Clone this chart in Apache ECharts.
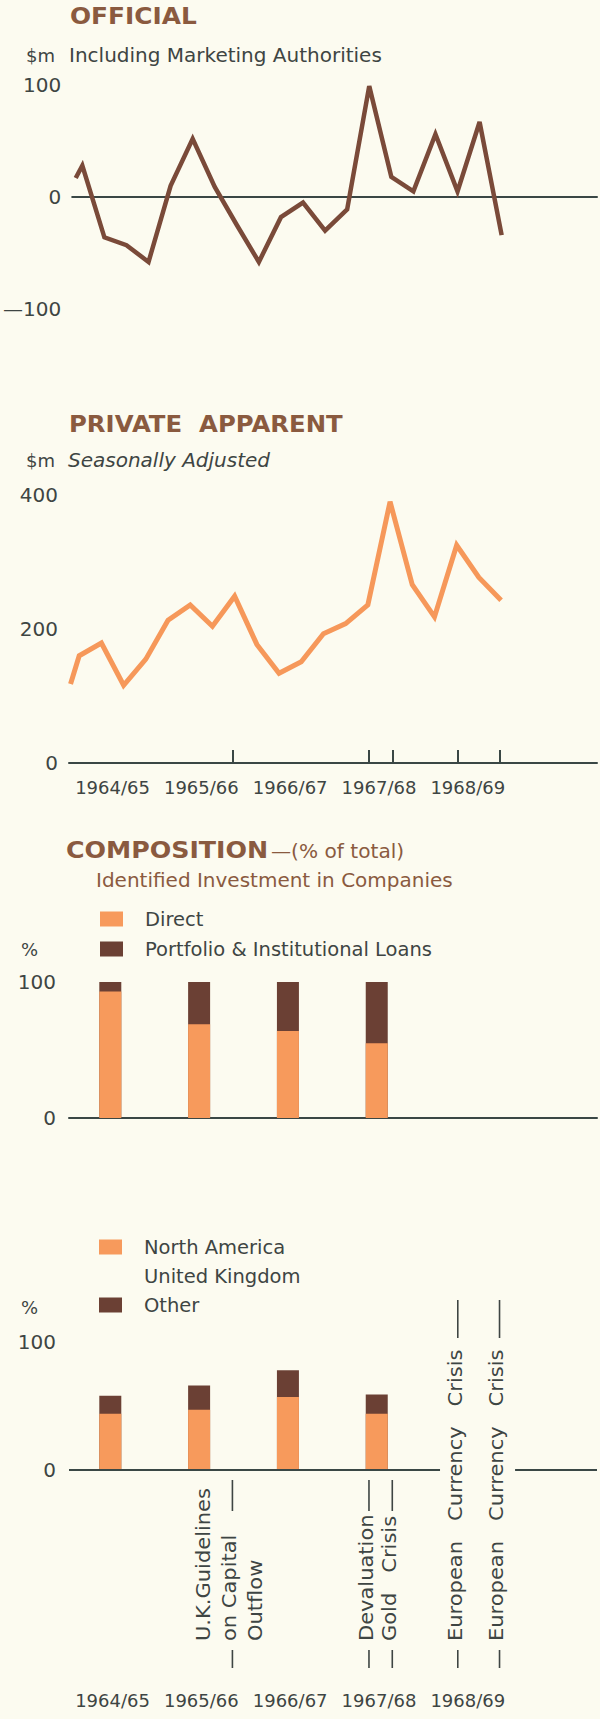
<!DOCTYPE html>
<html>
<head>
<meta charset="utf-8">
<script src="https://cdn.jsdelivr.net/npm/echarts@6/dist/echarts.min.js"></script>
<style>
html,body{margin:0;padding:0;background:#fcfbf0;}
#c{width:600px;height:1719px;}
</style>
</head>
<body>
<div id="c"></div>
<script>
// ---------- DATA ----------
// x positions are quarter indices: 0 = Sep quarter 1964 (first quarter of 1964/65)
const officialQuarters = [-0.3, 0, 1, 2, 3, 4, 5, 6, 7, 8, 9, 10, 11, 12, 13, 14, 15, 16, 17, 18, 19];
const officialValues   = [17, 28, -36, -43, -58, 10, 52, 9, -25, -58, -18, -5, -30, -11, 99, 18, 5, 56, 5, 67, -34];

const privateQuarters = [-0.39, 0, 1, 2, 3, 4, 5, 6, 7, 8, 9, 10, 11, 12, 13, 14, 15, 16, 17, 18, 19];
const privateValues   = [118, 160, 179, 116, 155, 213, 236, 204, 249, 177, 134, 151, 193, 208, 236, 390, 266, 218, 325, 277, 243];

const yearLabels = ['1964/65', '1965/66', '1966/67', '1967/68', '1968/69'];

// Composition (% of total) – one bar per year 1964/65 .. 1967/68
const directShare    = [93, 69, 64, 55];
const portfolioShare = [7, 31, 36, 45];

const northAmericaShare  = [44, 47, 57, 44];
const otherShare         = [14, 19, 21, 15];
const unitedKingdomShare = [42, 34, 22, 41];

// events (quarter index) and their annotation text
const eventQuarters = [6.9, 13.05, 14.1, 17.05, 18.93];
const eventTexts = [
  ['U.K.Guidelines', 'on Capital', 'Outflow'],
  ['Devaluation'],
  ['Gold   Crisis'],
  ['European   Currency   Crisis'],
  ['European   Currency   Crisis']
];
const eventMainLine = [1, 0, 0, 0, 0];

// ---------- STYLE ----------
const BG = '#fcfbf0';
const BROWN = '#8a5a3f';
const TEXT = '#3e4543';
const AXIS = '#3a4745';
const ORANGE = '#f79a5c';
const DARK = '#6b4034';
const OFFICIAL_LINE = '#7a4a39';
const PRIVATE_LINE = '#f6985a';
const FONT = '"DejaVu Sans", sans-serif';

const X_MIN = -0.46, X_MAX = 23.32;
const GRID_LEFT = 69, GRID_W = 528;

const yearCentres = yearLabels.map((_, k) => k * 4 + 1.5);
const barQuarters = directShare.map((_, k) => k * 4 + 1.4);

// cumulative tops for the stacked columns (drawn as overlapping bars)
const sum = (...arrs) => arrs[0].map((_, i) => arrs.reduce((s, a) => s + a[i], 0));
const comp1Top = sum(directShare, portfolioShare);
const comp2Other = sum(northAmericaShare, otherShare);
const comp2Top = sum(northAmericaShare, otherShare, unitedKingdomShare);

function xAxisBase(extra) {
  return Object.assign({
    type: 'value', min: X_MIN, max: X_MAX,
    splitLine: {show: false},
    axisLine: {show: true, onZero: true, lineStyle: {color: AXIS, width: 2}},
    axisTick: {show: false},
    axisLabel: {show: false}
  }, extra);
}
function yAxisBase(extra) {
  return Object.assign({
    type: 'value',
    splitLine: {show: false},
    axisLine: {show: false},
    axisTick: {show: false},
    axisLabel: {fontFamily: FONT, fontSize: 20, color: TEXT, margin: 11}
  }, extra);
}
const yearLabelCfg = (margin) => ({
  show: true, customValues: yearCentres, margin: margin,
  fontFamily: FONT, fontSize: 18, color: TEXT,
  formatter: (v) => {
    const k = yearCentres.findIndex(c => Math.abs(c - v) < 1e-6);
    return k >= 0 ? yearLabels[k] : '';
  }
});

const gapStart = eventQuarters[3] - 0.8;
const gapEnd = eventQuarters[4] + 0.7;

function barSeries(name, xi, values, color) {
  return {
    name: name, type: 'bar', xAxisIndex: xi, yAxisIndex: xi,
    barWidth: 22, barGap: '-100%', silent: true,
    data: barQuarters.map((q, i) => [q, values[i]]),
    itemStyle: {color: color}
  };
}

const naSeries = barSeries('North America', 3, northAmericaShare, ORANGE);
naSeries.markLine = {
  silent: true, symbol: ['none', 'none'], label: {show: false},
  lineStyle: {color: AXIS, width: 2, type: 'solid'},
  emphasis: {disabled: true},
  data: [
    [{coord: [X_MIN, 0]}, {coord: [gapStart, 0]}],
    [{coord: [gapEnd, 0]}, {coord: [X_MAX, 0]}]
  ]
};

const option = {
  backgroundColor: BG,
  animation: false,
  grid: [
    {left: GRID_LEFT, width: GRID_W, top: 85, height: 224},
    {left: GRID_LEFT, width: GRID_W, top: 495, height: 268},
    {left: GRID_LEFT, width: GRID_W, top: 982, height: 136},
    {left: GRID_LEFT, width: GRID_W, top: 1342, height: 128}
  ],
  xAxis: [
    xAxisBase({gridIndex: 0}),
    xAxisBase({gridIndex: 1,
      axisTick: {show: true, inside: true, length: 13, customValues: eventQuarters,
                 lineStyle: {color: AXIS, width: 2}},
      axisLabel: yearLabelCfg(15)}),
    xAxisBase({gridIndex: 2}),
    xAxisBase({gridIndex: 3, axisLine: {show: false}, axisLabel: yearLabelCfg(221)})
  ],
  yAxis: [
    yAxisBase({gridIndex: 0, min: -100, max: 100, interval: 100,
      axisLabel: {fontFamily: FONT, fontSize: 20, color: TEXT, margin: 11,
        formatter: v => v < 0 ? '—' + Math.abs(v) : String(v)}}),
    yAxisBase({gridIndex: 1, min: 0, max: 400, interval: 200}),
    yAxisBase({gridIndex: 2, min: 0, max: 100, interval: 100,
      axisLabel: {fontFamily: FONT, fontSize: 20, color: TEXT, margin: 13}}),
    yAxisBase({gridIndex: 3, min: 0, max: 100, interval: 100,
      axisLabel: {fontFamily: FONT, fontSize: 20, color: TEXT, margin: 13}})
  ],
  legend: [
    {
      data: ['Direct', 'Portfolio & Institutional Loans'],
      orient: 'vertical', left: 100, top: 909, padding: 0,
      itemWidth: 23, itemHeight: 15, itemGap: 10, icon: 'rect',
      selectedMode: false,
      textStyle: {fontFamily: FONT, fontSize: 19.5, color: TEXT, lineHeight: 20, padding: [0, 0, 0, 17]}
    },
    {
      data: ['North America', 'United Kingdom', 'Other'],
      orient: 'vertical', left: 99, top: 1237, padding: 0,
      itemWidth: 23, itemHeight: 15, itemGap: 9, icon: 'rect',
      selectedMode: false,
      textStyle: {fontFamily: FONT, fontSize: 19.5, color: TEXT, lineHeight: 20, padding: [0, 0, 0, 17]}
    }
  ],
  series: [
    {
      name: 'Official', type: 'line', xAxisIndex: 0, yAxisIndex: 0,
      data: officialQuarters.map((q, i) => [q, officialValues[i]]),
      symbol: 'none', silent: true,
      lineStyle: {color: OFFICIAL_LINE, width: 4.5, join: 'miter', miterLimit: 4}
    },
    {
      name: 'Private apparent', type: 'line', xAxisIndex: 1, yAxisIndex: 1,
      data: privateQuarters.map((q, i) => [q, privateValues[i]]),
      symbol: 'none', silent: true,
      lineStyle: {color: PRIVATE_LINE, width: 5, join: 'miter', miterLimit: 4}
    },
    // column chart 1: portfolio sits on top of direct
    barSeries('Portfolio & Institutional Loans', 2, comp1Top, DARK),
    barSeries('Direct', 2, directShare, ORANGE),
    // column chart 2: north america, other above it, united kingdom (unshaded) on top
    barSeries('United Kingdom', 3, comp2Top, BG),
    barSeries('Other', 3, comp2Other, DARK),
    naSeries
  ]
};

const chart = echarts.init(document.getElementById('c'), null, {renderer: 'svg', width: 600, height: 1719});
chart.setOption(option);

// ---------- static texts ----------
function txt(x, y, text, size, color, weight, style, sx) {
  return {
    type: 'text', x: x, y: y, silent: true, scaleX: sx || 1,
    style: {text: text, fontFamily: FONT, fontSize: size, fontWeight: weight || 'normal',
            fontStyle: style || 'normal', fill: color, align: 'left', verticalAlign: 'middle'}
  };
}
const graphics = [
  txt(70, 16, 'OFFICIAL', 23, BROWN, 'bold', null, 1.08),
  txt(26, 55, '$m', 18, TEXT),
  txt(69, 55, 'Including Marketing Authorities', 20, TEXT),
  txt(69, 424, 'PRIVATE  APPARENT', 23, BROWN, 'bold', null, 1.06),
  txt(26, 460, '$m', 18, TEXT),
  txt(68, 460, 'Seasonally Adjusted', 20, TEXT, 'normal', 'italic'),
  txt(66, 850, 'COMPOSITION', 23, BROWN, 'bold', null, 1.1),
  txt(271, 852, '—(% of total)', 19, BROWN, 'normal', null, 1.06),
  txt(96, 880, 'Identified Investment in Companies', 20, BROWN),
  txt(21, 949, '%', 18, TEXT),
  txt(21, 1307, '%', 18, TEXT)
];

// ---------- event annotations (x from the chart's own scale) ----------
const TEXT_START_Y = 1641;
eventQuarters.forEach((q, k) => {
  const px = chart.convertToPixel({gridIndex: 3}, [q, 0])[0];
  const lines = eventTexts[k];
  lines.forEach((line, j) => {
    graphics.push({
      type: 'text', x: px - 3 + (j - eventMainLine[k]) * 26, y: TEXT_START_Y,
      rotation: Math.PI / 2, scaleX: 1.05, silent: true,
      style: {text: line, fontFamily: FONT, fontSize: 20, fill: TEXT, align: 'left', verticalAlign: 'middle'}
    });
  });
  // lower dash
  graphics.push({type: 'line', silent: true,
    shape: {x1: px, y1: 1650, x2: px, y2: 1668},
    style: {stroke: TEXT, lineWidth: 1.6}});
  // upper dash
  const top = k >= 3 ? 1300 : 1480;
  const len = k >= 3 ? 38 : 31;
  graphics.push({type: 'line', silent: true,
    shape: {x1: px, y1: top, x2: px, y2: top + len},
    style: {stroke: TEXT, lineWidth: 1.6}});
});

chart.setOption({graphic: graphics});
</script>
</body>
</html>
